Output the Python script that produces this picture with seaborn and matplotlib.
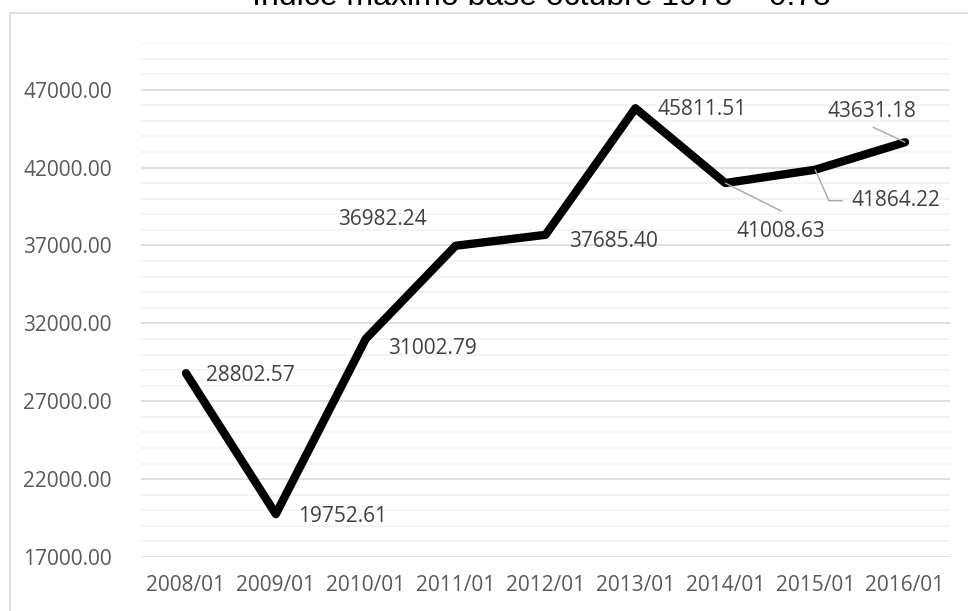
import matplotlib
matplotlib.use("Agg")
import matplotlib.pyplot as plt
from matplotlib.patches import Rectangle
from matplotlib.ticker import MultipleLocator, FormatStrFormatter
import seaborn as sns
import pandas as pd

# data
periods = ["2008/01", "2009/01", "2010/01", "2011/01", "2012/01",
           "2013/01", "2014/01", "2015/01", "2016/01"]
values = [28802.57, 19752.61, 31002.79, 36982.24, 37685.40,
          45811.51, 41008.63, 41864.22, 43631.18]
title = "Índice máximo base octubre 1978 = 0.78"

df = pd.DataFrame({"periodo": periods, "valor": values})

sns.set_theme(style="white")
plt.rcParams["font.family"] = ["Open Sans", "DejaVu Sans"]

fig = plt.figure(figsize=(9.68, 6.11), dpi=100)
ax = fig.add_axes([141 / 968, 1 - 557 / 611, (950 - 141) / 968, (557 - 43) / 611])

sns.lineplot(data=df, x="periodo", y="valor", ax=ax, color="black",
             linewidth=6, solid_capstyle="round", solid_joinstyle="round",
             zorder=3, sort=False)

ax.set_xlim(-0.5, len(periods) - 0.5)
ax.set_ylim(17000, 50000)
ax.yaxis.set_minor_locator(MultipleLocator(1000))
ax.set_yticks(range(17000, 50000, 5000))
ax.yaxis.set_major_formatter(FormatStrFormatter("%.2f"))
ax.grid(which="major", axis="y", color="#d9d9d9", linewidth=1.2)
ax.grid(which="minor", axis="y", color="#f2f2f2", linewidth=1.2)
ax.grid(axis="x", visible=False)
ax.set_axisbelow(True)
for s in ax.spines.values():
    s.set_visible(False)
ax.set_xlabel("")
ax.set_ylabel("")
ax.tick_params(axis="both", which="both", length=0, labelsize=15, colors="#595959")
ax.tick_params(axis="y", pad=21)
ax.tick_params(axis="x", pad=13)

# data labels: (dx, dy) in pixels, alignment
label_pos = [
    (20, -2, "left", "center"),
    (22, -2, "left", "center"),
    (22, -10, "left", "center"),
    (-73, 26, "center", "center"),
    (24, -7, "left", "center"),
    (22, -1, "left", "center"),
    (56, -48, "center", "center"),
    (36, -31, "left", "center"),
    (-33, 31, "center", "center"),
]
for i, (p, v) in enumerate(zip(periods, values)):
    dx, dy, ha, va = label_pos[i]
    ax.annotate(f"{v:.2f}", xy=(i, v), xytext=(dx, dy), textcoords="offset pixels",
                ha=ha, va=va, fontsize=15, color="#404040", zorder=4)

# leader lines
leader = "#a6a6a6"
ax.annotate("", xy=(6, values[6]), xytext=(56, -28), textcoords="offset pixels",
            arrowprops=dict(arrowstyle="-", color=leader, lw=1, shrinkA=0, shrinkB=0))
ax.annotate("", xy=(7, values[7]), xytext=(27, -31), textcoords="offset pixels",
            arrowprops=dict(arrowstyle="-", color=leader, lw=1, shrinkA=0, shrinkB=0,
                            connectionstyle="angle,angleA=0,angleB=114,rad=0"))
ax.annotate("", xy=(8, values[8]), xytext=(-32, 15), textcoords="offset pixels",
            arrowprops=dict(arrowstyle="-", color=leader, lw=1, shrinkA=0, shrinkB=0))

# outer chart frame (partly cropped)
fig.patches.append(Rectangle((9.5 / 968, -0.1), 1.2, 1 - 12.5 / 611 + 0.1,
                             transform=fig.transFigure, fill=False,
                             edgecolor="#d9d9d9", linewidth=1.2))

fig.text(541 / 968, 1 - 5 / 611, title, ha="center", va="baseline",
         fontsize=23, color="black", family=["Liberation Sans", "DejaVu Sans"])

fig.savefig("out.png", dpi=100)
